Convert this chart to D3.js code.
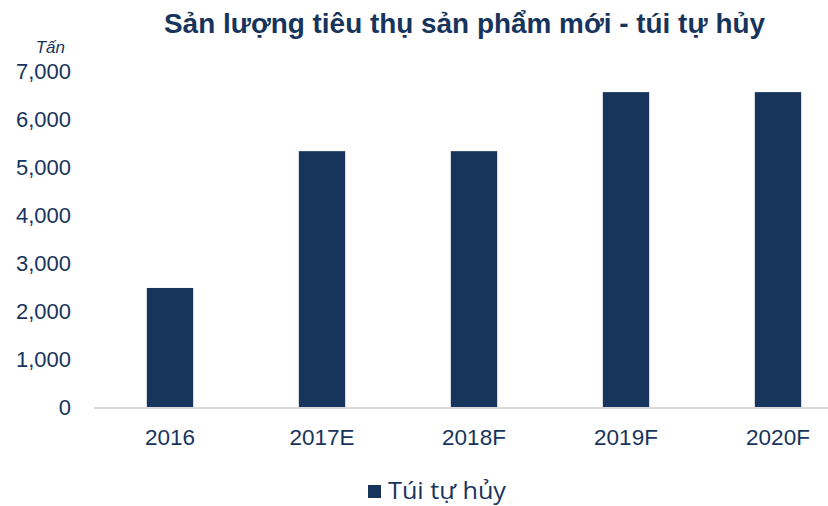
<!DOCTYPE html>
<html><head><meta charset="utf-8">
<script src="https://cdn.jsdelivr.net/npm/d3@7"></script>
<style>body{margin:0;background:#fff}svg{display:block}</style>
</head><body>
<svg id="c" width="828" height="506"></svg>
<script>
const categories = ["2016","2017E","2018F","2019F","2020F"];
const values = [2480, 5330, 5330, 6560, 6560];
const yTicks = [0,1000,2000,3000,4000,5000,6000,7000];
const seriesName = "Túi tự hủy";
const title = "Sản lượng tiêu thụ sản phẩm mới - túi tự hủy";
const unit = "Tấn";

const navy = "#17345C";
const svg = d3.select("#c");
const x = d3.scaleBand().domain(categories).range([94, 854]).padding(0);
const y = d3.scaleLinear().domain([0, 7000]).range([407, 71]);

svg.append("text").attr("x", 164).attr("y", 33)
  .attr("font-family","Liberation Sans, Arial, sans-serif").attr("font-weight","bold")
  .attr("font-size", 27).attr("fill", navy)
  .attr("textLength", 601).attr("lengthAdjust","spacingAndGlyphs").text(title);

svg.append("text").attr("x", 65).attr("y", 53).attr("text-anchor","end")
  .attr("font-family","Liberation Sans, Arial, sans-serif").attr("font-style","italic")
  .attr("font-size", 17).attr("fill", navy).text(unit);

const bw = x.bandwidth() * 0.305;
svg.append("g").selectAll("rect").data(values).join("rect")
  .attr("x", (d,i) => x(categories[i]) + (x.bandwidth()-bw)/2)
  .attr("y", d => y(d)).attr("width", bw).attr("height", d => y(0) - y(d))
  .attr("fill", navy);

const yAxis = svg.append("g").attr("transform","translate(71,0)")
  .call(d3.axisLeft(y).tickValues(yTicks).tickFormat(d3.format(",")).tickSize(0).tickPadding(0));
yAxis.select(".domain").remove();
yAxis.selectAll("text").attr("font-family","Liberation Sans, Arial, sans-serif")
  .attr("font-size", 22).attr("fill", navy).attr("dy","0.36em");

svg.append("line").attr("x1", 94).attr("x2", 854).attr("y1", y(0)+1).attr("y2", y(0)+1)
  .attr("stroke", "#D9D9D9").attr("stroke-width", 2);

const xAxis = svg.append("g").attr("transform", `translate(0,${y(0)})`)
  .call(d3.axisBottom(x).tickSize(0).tickPadding(0));
xAxis.select(".domain").remove();
xAxis.selectAll("text").attr("font-family","Liberation Sans, Arial, sans-serif")
  .attr("font-size", 22.5).attr("fill", navy).attr("dy", null).attr("y", 38);

const lg = svg.append("g");
lg.append("rect").attr("x", 368).attr("y", 485).attr("width", 13).attr("height", 13).attr("fill", navy);
lg.append("text").attr("x", 388).attr("y", 499).attr("font-family","Open Sans, Noto Sans, sans-serif")
  .attr("font-size", 24).attr("fill", navy)
  .attr("textLength", 118).attr("lengthAdjust","spacingAndGlyphs").text(seriesName);
</script>
</body></html>
